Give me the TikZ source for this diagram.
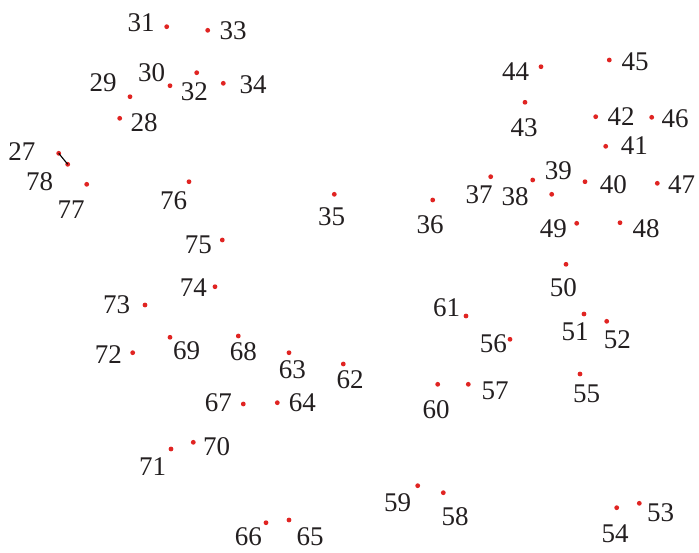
\documentclass[tikz,border=0pt]{standalone}
\usepackage{fontspec}
\setmainfont{Liberation Serif}
\usetikzlibrary{positioning}

\definecolor{dotred}{HTML}{E02422}
\definecolor{numgray}{HTML}{231F20}

\begin{document}
\begin{tikzpicture}[
    x=1pt, y=-1pt,
    dot/.style={circle, fill=dotred, inner sep=0pt, minimum size=4.8pt},
    num/.style={text=numgray, inner sep=0pt, font=\fontsize{27}{30}\selectfont},
    link/.style={draw=black, line width=1.1pt}
]
\useasboundingbox (0,0) rectangle (699,552);

% Upper left cluster
\node[dot] (p31) at (166.7, 26.7) {};   \node[num] (n31) at (141, 23) {31};
\node[dot] (p33) at (207.7, 30.3) {};   \node[num] (n33) at (233, 31) {33};
\node[dot] (p30) at (170, 85.7) {};     \node[num] (n30) at (151.7, 72.7) {30};
\node[dot] (p32) at (196.7, 72.7) {};   \node[num] (n32) at (194.3, 91.7) {32};
\node[dot] (p34) at (223.3, 83.3) {};   \node[num] (n34) at (253, 85) {34};
\node[dot] (p29) at (130, 96.7) {};     \node[num] (n29) at (103, 82.7) {29};
\node[dot] (p28) at (119.7, 118.3) {};  \node[num] (n28) at (144, 123) {28};
\node[dot] (p27) at (58.7, 153.3) {};   \node[num] (n27) at (22, 152) {27};
\node[dot] (p78) at (67.7, 164.3) {};   \node[num] (n78) at (39.5, 181.5) {78};
\node[dot] (p77) at (86.7, 184.3) {};   \node[num] (n77) at (71, 209.5) {77};
\node[dot] (p76) at (189, 181.7) {};    \node[num] (n76) at (173.5, 201) {76};
\node[dot] (p35) at (334.3, 194.3) {};  \node[num] (n35) at (331.7, 216.5) {35};

% Upper right cluster
\node[dot] (p44) at (541, 66.7) {};     \node[num] (n44) at (515.7, 71.7) {44};
\node[dot] (p45) at (609.3, 60) {};     \node[num] (n45) at (635, 61.7) {45};
\node[dot] (p43) at (525, 102.3) {};    \node[num] (n43) at (524, 127.3) {43};
\node[dot] (p42) at (595.7, 116.7) {};  \node[num] (n42) at (621, 116.7) {42};
\node[dot] (p46) at (651.7, 117.3) {};  \node[num] (n46) at (675, 119) {46};
\node[dot] (p41) at (605.7, 146.3) {};  \node[num] (n41) at (634.3, 146) {41};
\node[dot] (p37) at (490.7, 176.7) {};  \node[num] (n37) at (479, 195) {37};
\node[dot] (p38) at (532.7, 180) {};    \node[num] (n38) at (515, 196.7) {38};
\node[dot] (p39) at (551.7, 194.3) {};  \node[num] (n39) at (558.3, 170.7) {39};
\node[dot] (p40) at (585, 181.7) {};    \node[num] (n40) at (613.3, 185) {40};
\node[dot] (p47) at (657.3, 183.3) {};  \node[num] (n47) at (681.7, 185) {47};
\node[dot] (p36) at (432.7, 200) {};    \node[num] (n36) at (430, 224.3) {36};
\node[dot] (p49) at (576.7, 223.3) {};  \node[num] (n49) at (553.3, 228.3) {49};
\node[dot] (p48) at (620, 222.7) {};    \node[num] (n48) at (646, 228.3) {48};

% Middle left cluster
\node[dot] (p75) at (222.3, 240) {};    \node[num] (n75) at (198.3, 245) {75};
\node[dot] (p74) at (215, 286.7) {};    \node[num] (n74) at (193.3, 287.3) {74};
\node[dot] (p73) at (145, 305) {};      \node[num] (n73) at (116.7, 305) {73};
\node[dot] (p72) at (132.7, 352.7) {};  \node[num] (n72) at (108.3, 355) {72};
\node[dot] (p69) at (170, 337.3) {};    \node[num] (n69) at (186.7, 350.7) {69};
\node[dot] (p68) at (238.3, 336) {};    \node[num] (n68) at (243.3, 351.7) {68};
\node[dot] (p63) at (289, 352.7) {};    \node[num] (n63) at (292.3, 369.3) {63};
\node[dot] (p62) at (343.3, 364) {};    \node[num] (n62) at (350, 379.3) {62};
\node[dot] (p67) at (243.3, 404) {};    \node[num] (n67) at (218.3, 402.7) {67};
\node[dot] (p64) at (277.3, 402.7) {};  \node[num] (n64) at (302.3, 402.7) {64};

% Middle right cluster
\node[dot] (p50) at (566, 264.3) {};    \node[num] (n50) at (563.3, 287.7) {50};
\node[dot] (p61) at (466, 316) {};      \node[num] (n61) at (446.7, 307.7) {61};
\node[dot] (p56) at (510, 339.3) {};    \node[num] (n56) at (493.3, 343.3) {56};
\node[dot] (p51) at (584, 314) {};      \node[num] (n51) at (575, 331.7) {51};
\node[dot] (p52) at (606.7, 321.3) {};  \node[num] (n52) at (617.3, 339.3) {52};
\node[dot] (p60) at (437.7, 384.3) {};  \node[num] (n60) at (436, 409.3) {60};
\node[dot] (p57) at (468.3, 384.3) {};  \node[num] (n57) at (495, 390.7) {57};
\node[dot] (p55) at (580, 374) {};      \node[num] (n55) at (586.7, 394) {55};

% Bottom row
\node[dot] (p71) at (171, 449) {};      \node[num] (n71) at (152.7, 466.7) {71};
\node[dot] (p70) at (193.3, 442.3) {};  \node[num] (n70) at (216.7, 446.7) {70};
\node[dot] (p66) at (266, 522.7) {};    \node[num] (n66) at (248.3, 537) {66};
\node[dot] (p65) at (289, 520) {};      \node[num] (n65) at (310, 537) {65};
\node[dot] (p59) at (417.7, 485.7) {};  \node[num] (n59) at (397.7, 502.3) {59};
\node[dot] (p58) at (443.3, 492.7) {};  \node[num] (n58) at (455, 516.7) {58};
\node[dot] (p54) at (616.7, 507.7) {};  \node[num] (n54) at (615, 534) {54};
\node[dot] (p53) at (639.3, 503.3) {};  \node[num] (n53) at (660.7, 512.7) {53};

% The one joined pair
\draw[link] (p27.center) -- (p78.center);

\end{tikzpicture}
\end{document}
